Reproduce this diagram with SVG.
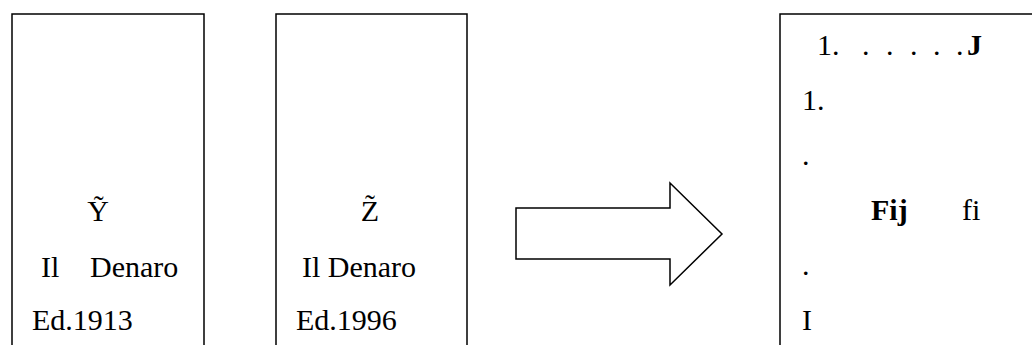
<svg xmlns="http://www.w3.org/2000/svg" width="1032" height="345" viewBox="0 0 1032 345">
<style>
.box{fill:#fff;stroke:#000;stroke-width:1.5}
.t{font-size:30px;fill:#000}
.b{font-weight:bold}
</style>
<rect width="1032" height="345" fill="#fff"/>
<g id="node-1913" font-family="Liberation Serif, Times New Roman, serif">
<path class="box" d="M12,346 V14 H204 V346"/>
<text class="t" x="98" y="221" text-anchor="middle">Ỹ</text>
<text class="t" x="41" y="277">Il</text>
<text class="t" x="90" y="277">Denaro</text>
<text class="t" x="32" y="330">Ed.1913</text>
</g>
<g id="node-1996" font-family="Liberation Serif, Times New Roman, serif">
<path class="box" d="M276,346 V14 H467 V346"/>
<text class="t" x="370" y="221" text-anchor="middle">Z̃</text>
<text class="t" x="302" y="277">Il Denaro</text>
<text class="t" x="296" y="330">Ed.1996</text>
</g>
<g id="connectors">
<polygon class="box" points="516,208 670,208 670,183 722,234 670,285 670,259 516,259"/>
</g>
<g id="node-result" font-family="Liberation Serif, Times New Roman, serif">
<path class="box" d="M780,346 V14 H1033"/>
<text class="t" y="55"><tspan x="817">1.</tspan><tspan x="862">.</tspan><tspan x="886">.</tspan><tspan x="910">.</tspan><tspan x="933">.</tspan><tspan x="956">.</tspan><tspan x="967" class="b">J</tspan></text>
<text class="t" x="802" y="110">1.</text>
<text class="t" x="802" y="165">.</text>
<text class="t b" x="871" y="220">Fij</text>
<text class="t" x="962" y="220">fi</text>
<text class="t" x="802" y="275">.</text>
<text class="t" x="802" y="330">I</text>
</g>
</svg>
